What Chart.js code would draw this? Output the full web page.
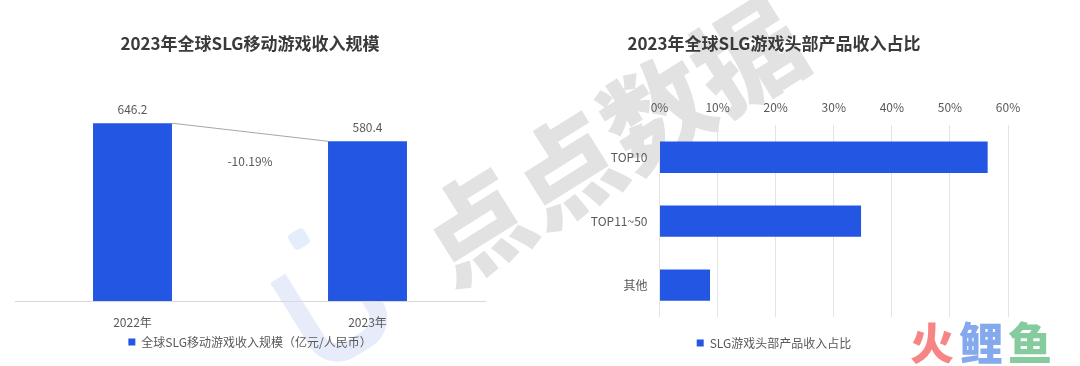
<!DOCTYPE html>
<html><head><meta charset="utf-8">
<script src="https://cdn.jsdelivr.net/npm/chart.js@4/dist/chart.umd.min.js"></script>
<style>
html,body{margin:0;padding:0;background:#fff;width:1080px;height:366px;overflow:hidden;position:relative;font-family:"Noto Sans CJK SC",sans-serif}
#w1{position:absolute;left:0;top:0;width:500px;height:366px}
#w2{position:absolute;left:540px;top:0;width:532px;height:366px}
#wm{position:absolute;left:609px;top:136px;transform:translate(-50%,-50%) rotate(-32deg);white-space:nowrap;font-size:106px;font-weight:900;line-height:1;letter-spacing:1px;color:rgba(110,110,110,0.2);pointer-events:none}
#wmi{position:absolute;left:292px;top:252px;width:50px;height:90px;border:18px solid rgba(200,214,244,0.45);border-top:none;border-radius:0 0 34px 34px;transform:rotate(-32deg);pointer-events:none}
#wmd{position:absolute;left:290px;top:230px;width:18px;height:18px;border-radius:4px;background:rgba(200,214,244,0.45);transform:rotate(-32deg);pointer-events:none}
#logo{position:absolute;left:910px;top:319px;white-space:nowrap;font-size:44px;font-weight:900;line-height:1;letter-spacing:5px;pointer-events:none}
</style></head>
<body>
<div id="wm">点点数据</div>
<div id="wmi"></div>
<div id="wmd"></div>
<div id="w1"><canvas id="c1"></canvas></div>
<div id="w2"><canvas id="c2"></canvas></div>
<div id="logo"><span style="color:#f78585">火</span><span style="color:#85a9ee">鲤</span><span style="color:#86cb9d">鱼</span></div>
<script>
const yearLabels = ['2022年', '2023年'];
const revenueValues = [646.2, 580.4];
const revenueSeriesName = '全球SLG移动游戏收入规模（亿元/人民币）';
const revenueTitle = '2023年全球SLG移动游戏收入规模';
const growthLabel = '-10.19%';

const tierLabels = ['TOP10', 'TOP11~50', '其他'];
const shareValues = [56.5, 34.7, 8.7];
const shareSeriesName = 'SLG游戏头部产品收入占比';
const shareTitle = '2023年全球SLG游戏头部产品收入占比';

const F = '"Noto Sans CJK SC", "Noto Sans", sans-serif';
const BLUE = '#2357e3';
const TXT = '#595959';

const revenueDeco = {
  id: 'revenueDeco',
  afterDatasetsDraw(chart) {
    const ctx = chart.ctx;
    const els = chart.getDatasetMeta(0).data;
    ctx.save();
    ctx.font = '12px ' + F;
    ctx.fillStyle = TXT;
    ctx.textAlign = 'center';
    ctx.textBaseline = 'middle';
    els.forEach((el, i) => {
      ctx.fillText(String(revenueValues[i]), el.x, el.y - 14);
    });
    const a = els[0], b = els[1];
    ctx.strokeStyle = '#a6a6a6';
    ctx.lineWidth = 1;
    ctx.beginPath();
    ctx.moveTo(a.x + a.width / 2, a.y);
    ctx.lineTo(b.x - b.width / 2, b.y);
    ctx.stroke();
    ctx.fillText(growthLabel, (a.x + b.x) / 2, (a.y + b.y) / 2 + 29);
    ctx.restore();
  }
};

new Chart(document.getElementById('c1'), {
  type: 'bar',
  data: {
    labels: yearLabels,
    datasets: [{
      label: revenueSeriesName,
      data: revenueValues,
      backgroundColor: BLUE,
      barPercentage: 0.336,
      categoryPercentage: 1
    }]
  },
  options: {
    responsive: true, maintainAspectRatio: false, animation: false,
    layout: { padding: { left: 15, right: 15, top: 0, bottom: 8 } },
    plugins: {
      title: { display: true, text: revenueTitle, color: '#3a3a3a', font: { size: 17, weight: 'bold', family: F }, padding: { top: 33, bottom: 55 } },
      legend: { position: 'bottom', labels: { boxWidth: 7, boxHeight: 7, color: TXT, font: { size: 12, family: F }, padding: 7 } },
      tooltip: { enabled: false }
    },
    scales: {
      x: {
        grid: { display: false, drawTicks: false },
        border: { display: true, color: '#d9d9d9' },
        ticks: { color: TXT, font: { size: 12, family: F }, padding: 14 },
        afterFit(s) { s.height = 28; }
      },
      y: { display: false, min: 0, max: 700 }
    }
  },
  plugins: [revenueDeco]
});

new Chart(document.getElementById('c2'), {
  type: 'bar',
  data: {
    labels: tierLabels,
    datasets: [{
      label: shareSeriesName,
      data: shareValues,
      backgroundColor: BLUE,
      barPercentage: 0.49,
      categoryPercentage: 1
    }]
  },
  options: {
    indexAxis: 'y',
    responsive: true, maintainAspectRatio: false, animation: false,
    layout: { padding: { left: 0, right: 64, top: 0, bottom: 7 } },
    plugins: {
      title: { display: true, text: shareTitle, color: '#3a3a3a', font: { size: 17, weight: 'bold', family: F }, padding: { top: 33, bottom: 35.5 } },
      legend: { position: 'bottom', labels: { boxWidth: 7, boxHeight: 7, color: TXT, font: { size: 12, family: F }, padding: 20 } },
      tooltip: { enabled: false }
    },
    scales: {
      x: {
        position: 'top', min: 0, max: 60,
        ticks: { stepSize: 10, callback: v => v + '%', color: TXT, font: { size: 12, family: F }, padding: 11 },
        grid: { color: '#e3e3e3', drawTicks: false },
        border: { display: false }
      },
      y: {
        grid: { display: false, drawTicks: false },
        border: { display: false },
        ticks: { color: TXT, font: { size: 12, family: F }, padding: 12 },
        afterFit(s) { s.width = 119.5; }
      }
    }
  }
});
</script>
</body></html>
